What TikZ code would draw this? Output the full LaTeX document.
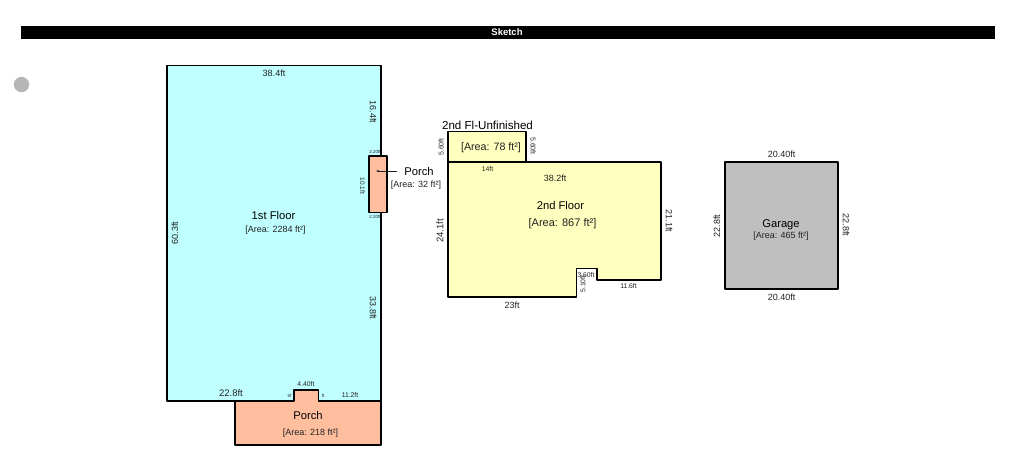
\documentclass[tikz,border=0pt]{standalone}
\usepackage{fontspec}
\setmainfont{Liberation Sans}
\usetikzlibrary{arrows.meta}
\definecolor{cyanfill}{HTML}{BFFFFF}
\definecolor{yellowfill}{HTML}{FFFFBF}
\definecolor{porchfill}{HTML}{FFBF9F}
\definecolor{garagefill}{HTML}{BFBFBF}
\definecolor{dimtxt}{HTML}{222222}
\tikzset{
  room/.style={draw=black,line width=1.8pt,line join=round},
  lab/.style={inner sep=0pt,text=dimtxt,font=\fontsize{9}{10}\selectfont},
  small/.style={inner sep=0pt,text=dimtxt,font=\fontsize{6.8}{8}\selectfont},
  tiny/.style={inner sep=0pt,text=dimtxt,font=\fontsize{4.5}{5}\selectfont},
  title/.style={inner sep=0pt,text=black,font=\fontsize{11.2}{13}\selectfont},
  area/.style={inner sep=0pt,text=dimtxt,font=\fontsize{9}{10}\selectfont},
  bigarea/.style={inner sep=0pt,text=dimtxt,font=\fontsize{11}{12}\selectfont},
}
\begin{document}
\begin{tikzpicture}[x=1pt,y=-1pt]
\useasboundingbox (0,0) rectangle (1024,472);
% header
\fill[black] (21,25.5) rectangle (995,39);
\node[inner sep=0pt,text=white,font=\bfseries\fontsize{9.5}{11}\selectfont] (sketch) at (507,32) {Sketch};
\fill[garagefill!95!black] (21.5,84.5) circle (7.7);
% rooms
\draw[room,fill=cyanfill] (167,65.5) -- (381,65.5) -- (381,401) -- (167,401) -- cycle;
\draw[room,fill=porchfill] (235,401) -- (294,401) -- (294,390) -- (318.5,390) -- (318.5,401) -- (381,401) -- (381,445) -- (235,445) -- cycle;
\draw[room,fill=porchfill] (369,156) -- (387,156) -- (387,212.5) -- (369,212.5) -- cycle;
\draw[room,fill=yellowfill] (448,131.5) -- (526,131.5) -- (526,162) -- (448,162) -- cycle;
\draw[room,fill=yellowfill] (448,162) -- (661,162) -- (661,280) -- (597,280) -- (597,268.5) -- (576.5,268.5) -- (576.5,297) -- (448,297) -- cycle;
\draw[room,fill=garagefill] (725,162) -- (838,162) -- (838,289) -- (725,289) -- cycle;
% 1st floor
\node[lab] (a1) at (274,73) {38.4ft};
\node[lab,rotate=-90] (a2) at (373,112) {16.4ft};
\node[lab,rotate=90] (a3) at (175,233) {60.3ft};
\node[lab,rotate=-90] (a4) at (373,308) {33.8ft};
\node[title] (a5) at (273.5,215) {1st Floor};
\node[area] (a6) at (275.5,230) {[Area: 2284 ft²]};
\node[lab,font=\fontsize{9.5}{10}\selectfont] (a7) at (231,393.5) {22.8ft};
\node[small] (a8) at (306,384) {4.40ft};
\node[small] (a9) at (350,395) {11.2ft};
\node[tiny] (a10) at (289.5,396) {5f};
\node[tiny] (a11) at (323,396) {ft};
% bottom porch
\node[title] (b1) at (308,415) {Porch};
\node[area] (b2) at (310.5,433) {[Area: 218 ft²]};
% side porch
\node[tiny] (c1) at (375,152) {2.20ft};
\node[tiny] (c2) at (375,217) {2.20ft};
\node[inner sep=0pt,text=dimtxt,font=\fontsize{6.5}{7}\selectfont,rotate=-90] (c3) at (362.5,186) {10.1ft};
\node[title] (c4) at (419,171) {Porch};
\node[area] (c5) at (416,185) {[Area: 32 ft²]};
\coordinate (c6) at (397,171);
\coordinate (c7) at (376,171);
\draw[-{Stealth[length=3pt,width=2pt]},line width=0.4pt,draw=dimtxt] (c6) -- (c7);
% unfinished
\node[title,font=\fontsize{11.6}{13}\selectfont] (d1) at (487.5,125.5) {2nd Fl-Unfinished};
\node[inner sep=0pt,text=dimtxt,font=\fontsize{10.7}{12}\selectfont] (d2) at (491,148) {[Area: 78 ft²]};
\node[inner sep=0pt,text=dimtxt,font=\fontsize{7}{8}\selectfont,rotate=90] (d3) at (441,147) {5.60ft};
\node[inner sep=0pt,text=dimtxt,font=\fontsize{7}{8}\selectfont,rotate=-90] (d4) at (533,146) {5.60ft};
\node[small] (d5) at (487.5,169) {14ft};
% 2nd floor
\node[lab] (e1) at (555,178) {38.2ft};
\node[title] (e2) at (560.5,205.5) {2nd Floor};
\node[bigarea] (e3) at (562.5,224) {[Area: 867 ft²]};
\node[lab,font=\fontsize{9.5}{10}\selectfont,rotate=90] (e4) at (440,231) {24.1ft};
\node[lab,rotate=-90] (e5) at (669,221) {21.1ft};
\node[lab] (e6) at (512,305) {23ft};
\node[small] (e7) at (628.5,286.5) {11.6ft};
\node[small,rotate=90] (e8) at (583,284) {5.10ft};
\node[small] (e9) at (586,275) {3.60ft};
% garage
\node[lab] (f1) at (781.5,154) {20.40ft};
\node[lab] (f2) at (781.5,297) {20.40ft};
\node[lab,rotate=90] (f3) at (717,226) {22.8ft};
\node[lab,rotate=-90] (f4) at (846,225) {22.8ft};
\node[title] (f5) at (781,225) {Garage};
\node[area] (f6) at (781,236) {[Area: 465 ft²]};
\end{tikzpicture}
\end{document}
